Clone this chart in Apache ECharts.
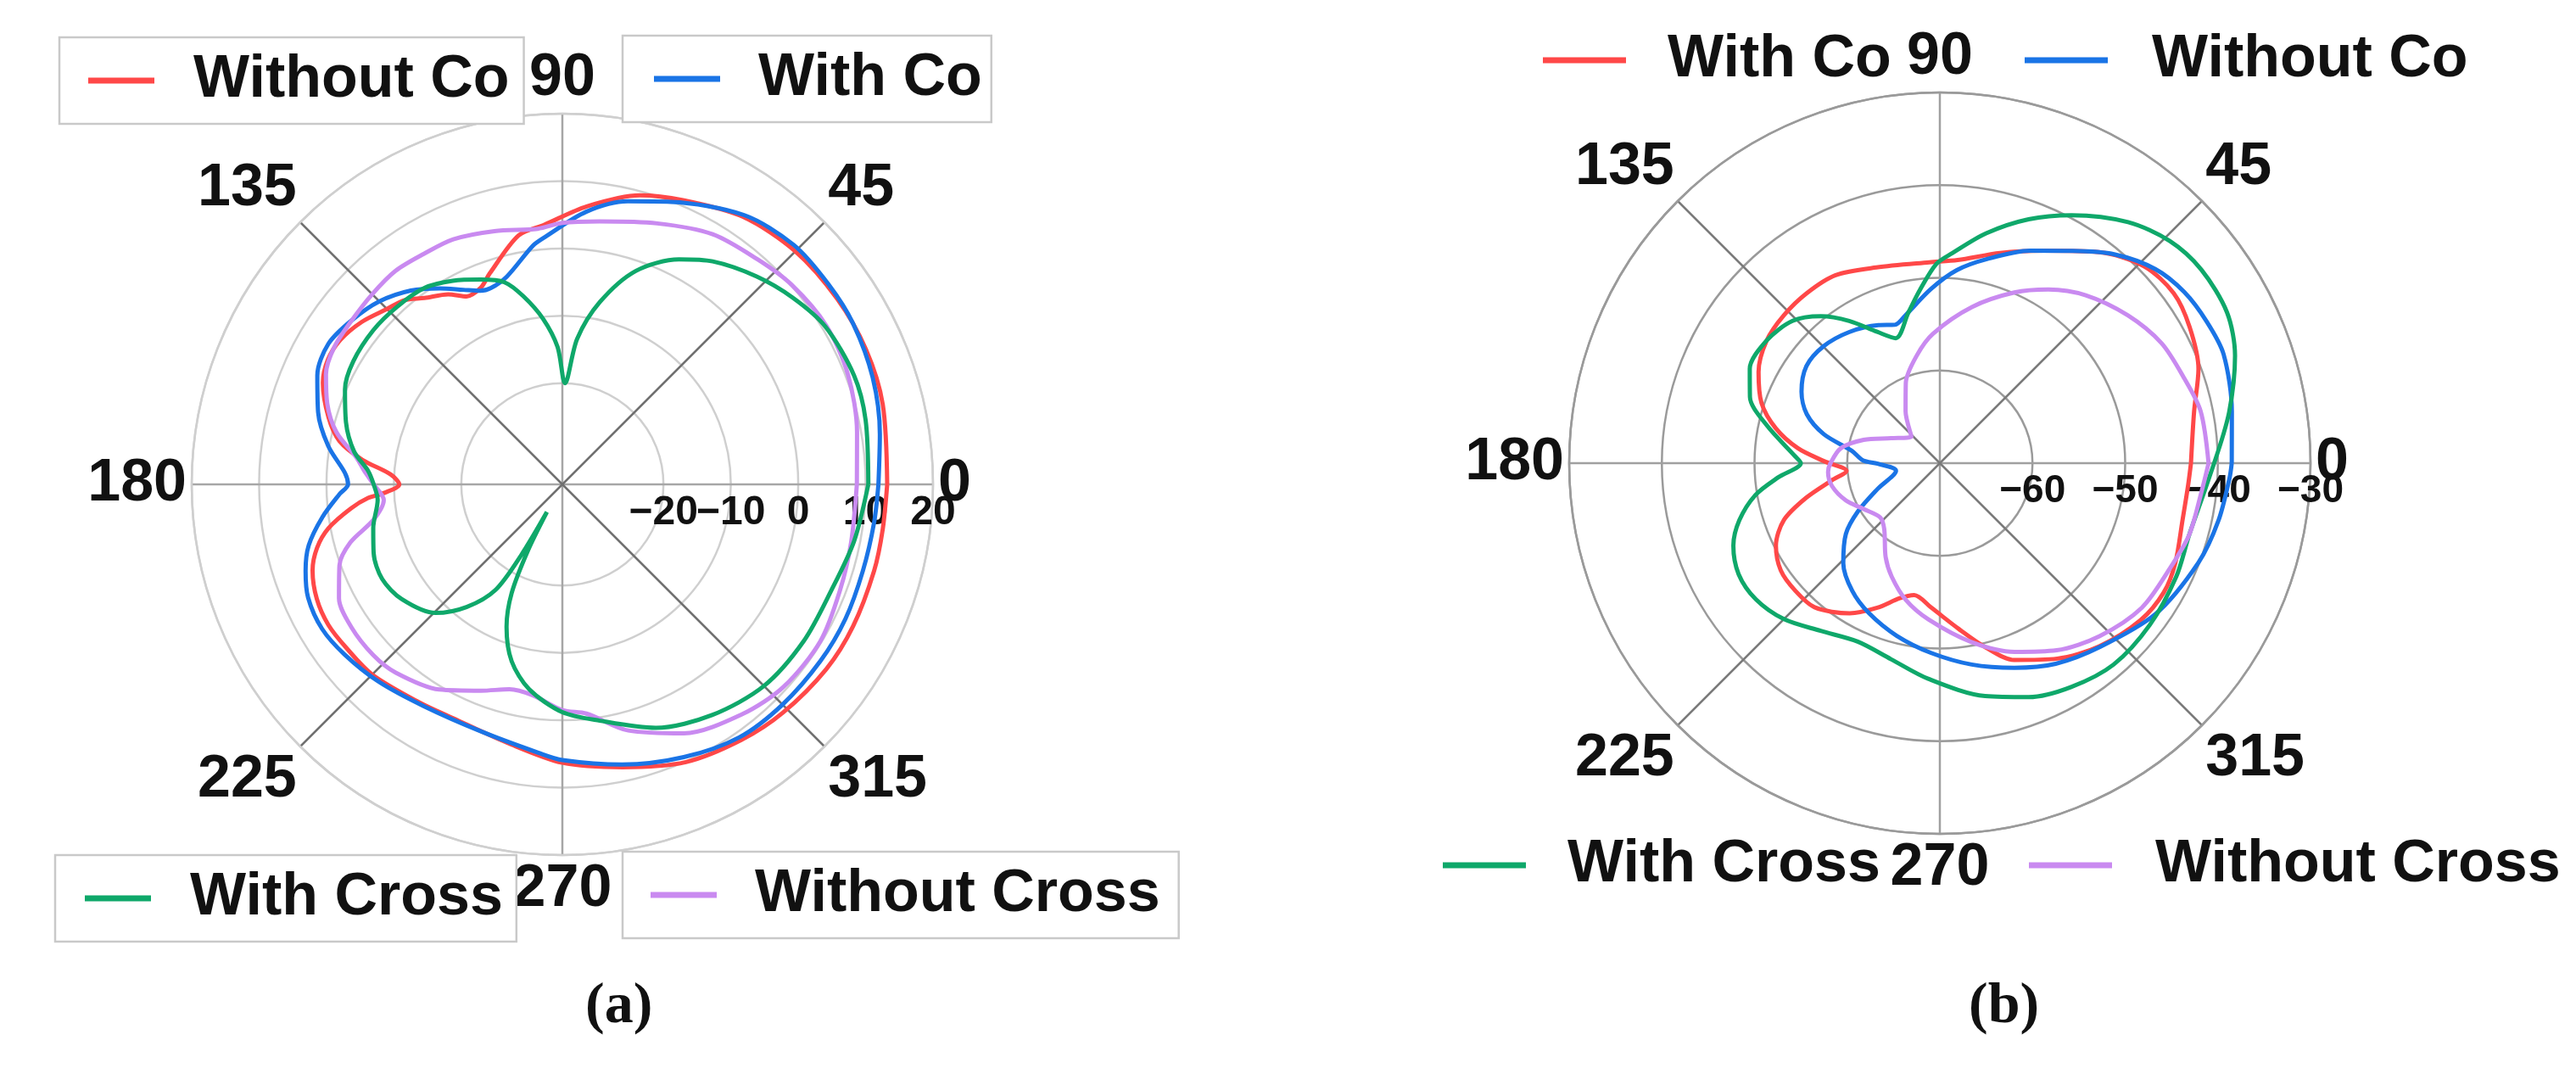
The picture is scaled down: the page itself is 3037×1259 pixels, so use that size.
<!DOCTYPE html>
<html>
<head>
<meta charset="utf-8">
<script src="https://cdn.jsdelivr.net/npm/echarts@6/dist/echarts.min.js"></script>
<style>
html,body{margin:0;padding:0;background:#fff;}
#a{position:absolute;left:0;top:0;width:1518px;height:1259px;}
#b{position:absolute;left:1518px;top:0;width:1519px;height:1259px;}
</style>
</head>
<body>
<div id="a"></div>
<div id="b"></div>
<script>
// ---------- Data: panel (a) ----------
const aNames = ['Without Co', 'With Co', 'With Cross', 'Without Cross'];
const aRadiusTicks = [-20, -10, 0, 10, 20];
const angleTickLabels = [0, 45, 90, 135, 180, 225, 270, 315];

const aRedAngle = [0,14,24,34,45,56,67,75,85,94,100,109,112.5,117,121,126.5,130.6,135,141,147,152,157,164,169,173,176.7,180,182.7,184,186.5,190.6,194.5,199,205,211,217,225,236.6,245,258,270,282,294,305,314,325,334,344.5,352,360];
const aRedValue = [13.2,14.0,14.3,14.2,13.9,12.9,10.8,9.4,6.4,3.6,2.5,-1.9,-3.4,-3.7,-2.1,-0.6,1.0,1.8,3.3,4.3,4.4,3.6,1.1,-1.3,-5.1,-9.5,-10.8,-8.6,-6.1,-3.4,0.3,2.6,4.2,5.2,5.5,5.2,4.9,3.7,3.3,4.2,6.3,7.9,10.1,11.3,12.1,12.8,13.0,13.0,13.0,13.2];

const aBlueAngle = [0,9,19,29,37,46,56,69,77,85,94,97,105,110,113,117,122,128,135,142,149,156,163.5,170.7,177,180,182.5,187.7,193.5,198.6,204,211,218,227,238,252,265,270,282,294,305,315,325.6,334.6,344,353,360];
const aBlueValue = [11.9,12.7,13.7,14.3,14.4,14.4,13.2,9.9,8.1,5.6,1.8,0.7,-3.1,-4.0,-3.8,-2.6,-0.7,1.5,3.4,4.6,5.5,4.8,2.8,0.2,-2.7,-3.2,-1.9,0.9,3.7,5.2,6.3,6.6,6.0,5.0,3.8,3.6,5.0,5.9,7.5,9.3,10.8,11.2,11.4,11.5,11.4,11.6,11.9];

const aGreenAngle = [0,12,20.5,31,39,47,56,62.6,71,78.4,84.2,88.5,92,96.6,101.7,106,111.7,118.3,125,133,140.8,149.5,156.4,164,171,176,180,184.8,193,200,207.7,215.5,225.4,232,237.6,239.8,240.8,242.5,245,248.6,254,260.8,270,279,291,303,315,327,338.5,349,360];
const aGreenValue = [10.4,11.0,11.2,10.5,9.0,7.2,4.9,2.6,-1.5,-7.4,-13.3,-20.0,-14.6,-10.3,-6.5,-3.8,-2.3,-0.7,0.6,1.0,1.2,1.0,0.2,-1.6,-3.7,-6.1,-7.0,-7.5,-6.2,-5.2,-4.8,-5.7,-8.2,-11.9,-16.4,-22.8,-30.3,-24.0,-17.2,-12.3,-7.7,-4.2,-1.2,0.5,3.7,5.8,7.3,7.7,7.9,9.1,10.4];

const aPurpleAngle = [0,10,21,31,41,49,59,70,82,90,95.5,105,114,121,128,135,142.4,149,155,161,167,172.6,176,180,185,190.6,195.3,200,207,214,222,228.5,239,248.5,255.5,262,270,276,285,296,308,317.6,328.7,339,348.7,360];
const aPurpleValue = [8.7,9.4,10.4,10.7,10.1,9.2,8.3,6.2,4.4,3.8,3.1,3.9,4.8,4.9,5.2,4.9,4.6,4.5,3.7,1.9,-0.6,-4.2,-5.5,-7.0,-8.4,-6.5,-2.4,0.2,2.2,2.8,2.8,2.3,0.5,-2.1,-3.6,-3.4,-1.5,-0.8,2.8,6.1,8.3,9.5,9.8,9.1,8.7,8.7];

// ---------- Data: panel (b) ----------
const bNames = ['With Co', 'Without Co', 'With Cross', 'Without Cross'];
const bRadiusTicks = [-60, -50, -40, -30];

const bRedAngle = [0,11.5,20,28.6,36,44,53,64,74,85,93,108,119,128,136.5,144.7,153.3,161.4,168,174,179,184.7,189,194.5,200,206.7,214,221.5,229,239,246.6,253.5,259,266.5,276.5,284,290.7,301,311,322,330,337,346.8,355,360];
const bRedValue = [-42.9,-42.0,-40.3,-39.3,-38.8,-39.4,-41.5,-44.5,-46.4,-48.0,-48.3,-47.8,-46.8,-46.7,-46.8,-47.1,-48.1,-49.7,-51.9,-54.6,-57.5,-59.9,-58.2,-55.1,-52.1,-50.2,-49.3,-49.2,-49.4,-51.1,-53.0,-54.8,-55.5,-54.4,-52.0,-49.5,-47.3,-45.4,-43.8,-42.5,-42.1,-42.4,-43.1,-43.1,-42.9];

const bBlueAngle = [0,10,21,28,35,42,50,58,67,77,85,93,103,108,114,124.7,135,144,152.7,159.8,166,172,178,180.5,189.8,202.6,210.6,217,226,235.5,244.7,256,267.4,279,290,300,311,325,339,348.4,357,360];
const bBlueValue = [-38.5,-38.0,-37.2,-37.4,-37.8,-38.7,-40.6,-43.0,-45.1,-47.4,-49.1,-51.2,-53.6,-54.3,-53.7,-52.8,-52.2,-52.2,-53.2,-54.7,-57.1,-60.4,-61.7,-63.3,-65.2,-62.7,-59.7,-57.3,-55.0,-53.3,-52.1,-50.8,-49.5,-48.0,-46.5,-45.0,-43.7,-41.6,-40.1,-39.3,-38.7,-38.5];

const bGreenAngle = [0,10,20,27.7,36.5,44,52,62,70,78.6,86.6,91,96.6,101.8,109.4,115.5,122.5,129,136,144.7,153.6,160.8,167.7,177.4,180,185,189.8,195.9,201.8,208.9,216.5,225,234.6,245.3,256,266.9,281,290.8,300.4,310.8,322.4,334.3,344,353.8,360];
const bGreenValue = [-40.4,-38.3,-36.1,-35.0,-34.9,-35.5,-37.0,-39.7,-42.0,-44.7,-47.3,-48.5,-51.2,-53.4,-55.7,-54.3,-51.8,-49.6,-47.9,-47.1,-47.1,-48.3,-50.9,-54.4,-55.0,-52.5,-49.8,-47.5,-46.0,-45.2,-45.3,-46.2,-47.8,-48.8,-48.2,-46.7,-44.4,-43.0,-42.0,-41.3,-41.4,-41.7,-42.0,-41.3,-40.4];

const bPurpleAngle = [0,11.2,19.3,28.4,38.2,49,58,66.4,78.4,93,102,113,123.5,137,152.8,163,171.4,180,184.6,192,201.7,211,222.3,229.8,240,247,256,265.8,280,291.6,302,312.7,324.4,335.4,344,353.7,360];
const bPurpleValue = [-41.0,-41.3,-42.1,-42.8,-44.2,-46.0,-47.9,-49.9,-52.8,-56.0,-58.1,-60.6,-63.3,-65.8,-64.1,-61.4,-59.2,-58.2,-57.9,-58.1,-59.1,-60.4,-61.3,-60.7,-58.3,-56.7,-54.8,-53.1,-50.4,-48.1,-46.2,-44.6,-43.2,-42.7,-42.0,-41.6,-41.0];

// ---------- Styling helpers ----------
const SANS = "'Liberation Sans', Arial, Helvetica, sans-serif";
const SERIF = "'Liberation Serif', 'Times New Roman', serif";
const RED = '#FF4848', BLUE = '#1A74E6', GREEN = '#0FA86A', PURPLE = '#C98AF0';
const TXT = '#111111';

function pairs(vals, angs) { return vals.map((v, i) => [v, angs[i]]); }
function fmtNum(v) { return v < 0 ? '\u2212' + Math.abs(v) : String(v); }
function angleLabel(v) { return angleTickLabels.indexOf(v) >= 0 ? String(v) : ''; }

// ring colours for the radius axis of (a): 5-unit ticks from -35, rings only at labelled ticks
const aRingColors = [];
for (let v = -35; v <= 20; v += 5) aRingColors.push(aRadiusTicks.indexOf(v) >= 0 ? '#cfcfcf' : 'rgba(0,0,0,0)');

function lineSeries(name, color, vals, angs, z) {
  return {
    type: 'line', name: name, coordinateSystem: 'polar',
    data: pairs(vals, angs), showSymbol: false, symbol: 'none',
    smooth: 0.3, z: z,
    lineStyle: { color: color, width: 5 }, itemStyle: { color: color }
  };
}

function angleAxis(ringColor, spokeColors) {
  return {
    type: 'value', min: 0, max: 360, interval: 45, startAngle: 0, clockwise: false,
    axisLine: { show: true, lineStyle: { color: ringColor, width: 2.5 } },
    axisTick: { show: false },
    splitLine: { show: true, lineStyle: { color: spokeColors, width: 2.5 } },
    axisLabel: { formatter: angleLabel, margin: 6, fontSize: 70, fontWeight: 'bold', fontFamily: SANS, color: TXT }
  };
}

function boxedLegend(name, left, top, pad, textPad) {
  return {
    data: [name], left: left, top: top, orient: 'horizontal', selectedMode: false,
    icon: 'rect', itemWidth: 78, itemHeight: 7, padding: pad,
    borderColor: '#c9c9c9', borderWidth: 2.5, backgroundColor: '#ffffff',
    textStyle: { fontSize: 70, fontWeight: 'bold', fontFamily: SANS, color: TXT, padding: [0, 0, 0, textPad] }
  };
}
function plainLegend(name, left, top, textPad) {
  return {
    data: [name], left: left, top: top, orient: 'horizontal', selectedMode: false,
    icon: 'rect', itemWidth: 98, itemHeight: 7, padding: 0,
    textStyle: { fontSize: 70, fontWeight: 'bold', fontFamily: SANS, color: TXT, padding: [0, 0, 0, textPad] }
  };
}
function caption(letter, left, top) {
  return {
    text: '{p|(}{b|' + letter + '}{p|)}', left: left, top: top,
    textStyle: { rich: {
      p: { fontSize: 68, fontFamily: SERIF, color: TXT },
      b: { fontSize: 68, fontFamily: SERIF, fontWeight: 'bold', color: TXT }
    } }
  };
}

// ---------- Chart (a) ----------
const chartA = echarts.init(document.getElementById('a'), null, { renderer: 'canvas' });
chartA.setOption({
  animation: false,
  backgroundColor: '#ffffff',
  polar: { center: [663, 571], radius: 437 },
  angleAxis: angleAxis('#cfcfcf', ['#a6a6a6', '#707070']),
  radiusAxis: {
    type: 'value', min: -35, max: 20, interval: 5,
    axisLine: { show: false }, axisTick: { show: false },
    splitLine: { show: true, lineStyle: { color: aRingColors, width: 2.5 } },
    axisLabel: {
      formatter: v => (aRadiusTicks.indexOf(v) >= 0 ? fmtNum(v) : ''),
      margin: -10, verticalAlign: 'top', fontSize: 48, fontWeight: 'bold', fontFamily: SANS, color: TXT
    }
  },
  legend: [
    boxedLegend(aNames[0], 70, 44, [16, 17, 16, 34], 41),
    boxedLegend(aNames[1], 734, 42, [16, 11, 16, 37], 40),
    boxedLegend(aNames[2], 65, 1008, [16, 16, 16, 35], 41),
    boxedLegend(aNames[3], 734, 1004, [16, 22, 16, 33], 40)
  ],
  title: [caption('a', 685, 1148)],
  series: [
    lineSeries(aNames[0], RED, aRedValue, aRedAngle, 2),
    lineSeries(aNames[1], BLUE, aBlueValue, aBlueAngle, 3),
    lineSeries(aNames[3], PURPLE, aPurpleValue, aPurpleAngle, 4),
    lineSeries(aNames[2], GREEN, aGreenValue, aGreenAngle, 5)
  ]
});

// ---------- Chart (b) ----------
const chartB = echarts.init(document.getElementById('b'), null, { renderer: 'canvas' });
chartB.setOption({
  animation: false,
  backgroundColor: '#ffffff',
  polar: { center: [769, 546], radius: 437 },
  angleAxis: angleAxis('#9a9a9a', ['#a0a0a0', '#7a7a7a']),
  radiusAxis: {
    type: 'value', min: -70, max: -30, interval: 10,
    axisLine: { show: false }, axisTick: { show: false },
    splitLine: { show: true, lineStyle: { color: '#9a9a9a', width: 2.5 } },
    axisLabel: {
      formatter: v => (bRadiusTicks.indexOf(v) >= 0 ? fmtNum(v) : ''),
      margin: -10, verticalAlign: 'top', fontSize: 46, fontWeight: 'bold', fontFamily: SANS, color: TXT
    }
  },
  legend: [
    plainLegend(bNames[0], 301, 36, 44),
    plainLegend(bNames[1], 869, 36, 47),
    plainLegend(bNames[2], 183, 985, 44),
    plainLegend(bNames[3], 874, 985, 46)
  ],
  title: [caption('b', 798, 1148)],
  series: [
    lineSeries(bNames[0], RED, bRedValue, bRedAngle, 2),
    lineSeries(bNames[1], BLUE, bBlueValue, bBlueAngle, 3),
    lineSeries(bNames[2], GREEN, bGreenValue, bGreenAngle, 4),
    lineSeries(bNames[3], PURPLE, bPurpleValue, bPurpleAngle, 5)
  ]
});
</script>
</body>
</html>
